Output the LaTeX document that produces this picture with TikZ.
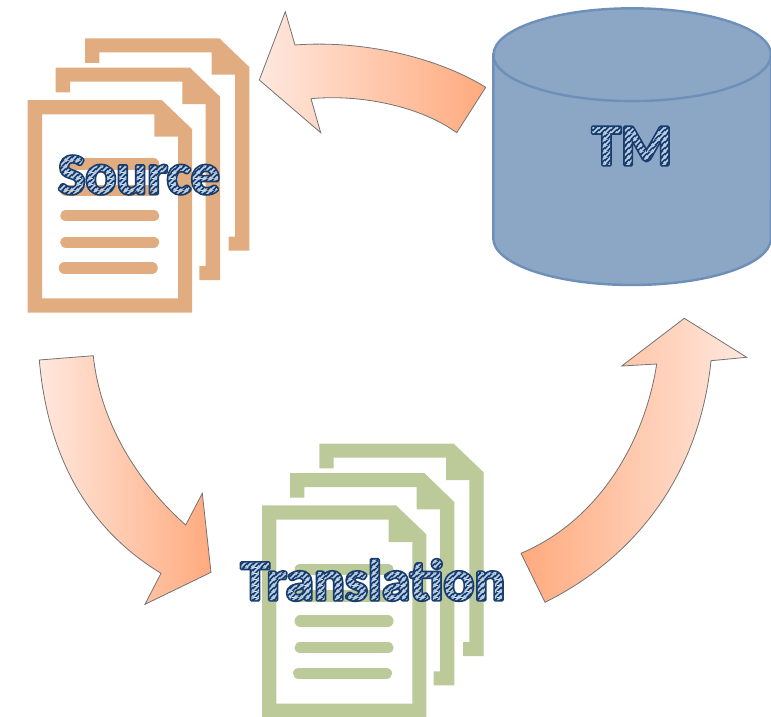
\documentclass[tikz,border=0pt]{standalone}
\usepackage{fontspec}
\setmainfont{Carlito}[BoldFont={Carlito Bold}]
\usetikzlibrary{patterns}
\definecolor{sourcecol}{RGB}{224,172,128}
\definecolor{transcol}{RGB}{188,202,154}
\definecolor{tmfill}{RGB}{140,166,198}
\definecolor{tmedge}{RGB}{110,143,184}
\definecolor{arrowlight}{RGB}{255,232,222}
\definecolor{arrowdark}{RGB}{255,170,126}
\definecolor{stripedark}{RGB}{24,60,108}
\definecolor{stripelight}{RGB}{190,210,234}
\pgfdeclarepatterninherentlycolored{labelstripes}{\pgfpointorigin}{\pgfqpoint{5.5pt}{5.5pt}}{\pgfqpoint{5.5pt}{5.5pt}}{
    \pgfsetfillcolor{stripedark}
    \pgfpathrectangle{\pgfpointorigin}{\pgfqpoint{5.5pt}{5.5pt}}
    \pgfusepath{fill}
    \pgfsetstrokecolor{stripelight}
    \pgfsetlinewidth{1.9pt}
    \pgfpathmoveto{\pgfqpoint{-1pt}{-1pt}}
    \pgfpathlineto{\pgfqpoint{6.5pt}{6.5pt}}
    \pgfpathmoveto{\pgfqpoint{-1pt}{4.5pt}}
    \pgfpathlineto{\pgfqpoint{1pt}{6.5pt}}
    \pgfpathmoveto{\pgfqpoint{4.5pt}{-1pt}}
    \pgfpathlineto{\pgfqpoint{6.5pt}{1pt}}
    \pgfusepath{stroke}
}
\newcommand{\stripetext}[1]{\pgfsetfillpattern{labelstripes}{black}\special{pdf:code 2 Tr 3.4 w 1 j 0.094 0.235 0.424 RG}#1\special{pdf:code 0 Tr}}
\newcommand{\pagestack}[3]{
    \begin{scope}[shift={(#1,#2)}]
        \fill[#3] (85,38.3) -- (219.3,38.3) -- (249.3,67) -- (249.3,250.7) -- (228.7,250.7) -- (228.7,236.7)
            -- (235,236.7) -- (235,74.7) -- (211.7,74.7) -- (211.7,52.3) -- (99.3,52.3) -- (99.3,63) -- (85,63) -- cycle;
        \fill[#3] (55.7,67.7) -- (190,67.7) -- (220,96.7) -- (220,280) -- (199.3,280) -- (199.3,266)
            -- (205.7,266) -- (205.7,104) -- (182.3,104) -- (182.3,81.7) -- (70,81.7) -- (70,92.3) -- (55.7,92.3) -- cycle;
        \fill[#3, even odd rule] (27.7,100) -- (161.7,100) -- (192,129) -- (192,312.7) -- (27.7,312.7) -- cycle
            (42,114.3) -- (154.3,114.3) -- (154.3,136.7) -- (178,136.7) -- (178,298.3) -- (42,298.3) -- cycle;
        \draw[#3, textline] (66,164) -- (153.5,164);
        \draw[#3, textline] (66,190.7) -- (153.5,190.7);
        \draw[#3, textline] (66,215.7) -- (153.5,215.7);
        \draw[#3, textline] (66,242.3) -- (153.5,242.3);
        \draw[#3, textline] (64.5,268) -- (152,268);
    \end{scope}
}
\tikzset{
    textline/.style={line width=11.5pt, line cap=round},
    curvearrow/.style={draw=black!55, line width=0.8pt, line join=miter, shading angle=90},
    stripelabel/.style={font=\fontsize{#1}{#1}\selectfont\bfseries, inner sep=0pt},
}
\begin{document}
\begin{tikzpicture}[x=1pt, y=-1pt]
    \useasboundingbox (0,0) rectangle (771,717);
    \pagestack{0}{0}{sourcecol}
    \pagestack{234.3}{405.3}{transcol}
    \begin{scope}
        \clip (0,0) rectangle (771,717);
        \draw[tmedge, fill=tmfill, line width=2.4pt] (493.3,54.7) -- (493.3,238.5)
            arc[start angle=180, end angle=360, x radius=138.8, y radius=-46.5]
            -- (771.1,54.7) arc[start angle=0, end angle=180, x radius=138.8, y radius=-46.4] -- cycle;
        \draw[tmedge, line width=2.4pt] (493.3,54.7) arc[start angle=180, end angle=360, x radius=138.8, y radius=-46.4];
    \end{scope}
    \path[curvearrow, left color=arrowlight, right color=arrowdark] (259.3,80) -- (285.3,11.7) -- (295,45)
        .. controls (360,40) and (435,56) .. (485.7,87.3) -- (456.7,132.7)
        .. controls (420,106) and (360,94) .. (311,98.7) -- (320.7,132.7) -- cycle;
    \path[curvearrow, left color=arrowlight, right color=arrowdark] (39.3,360) -- (93.3,355.7)
        .. controls (100,420) and (135,480) .. (185.7,525) -- (202.3,493.3) -- (211,572.3) -- (145,604.3) -- (161,573.3)
        .. controls (90,530) and (48,460) .. (39.3,360) -- cycle;
    \path[curvearrow, left color=arrowdark, right color=arrowlight] (521,553.3) -- (545,602.3)
        .. controls (640,555) and (700,470) .. (711,360.7) -- (746.7,357.3) -- (684.3,318.3) -- (621.7,366) -- (656.7,364)
        .. controls (645,440) and (600,520) .. (521,553.3) -- cycle;
    \node[stripelabel=57.5] (source) at (139,175) {\stripetext{Source}};
    \node[stripelabel=57.5] (translation) at (373,580) {\stripetext{Translation}};
    \node[stripelabel=58.5] (tm) at (632,146) {\stripetext{TM}};
\end{tikzpicture}
\end{document}
